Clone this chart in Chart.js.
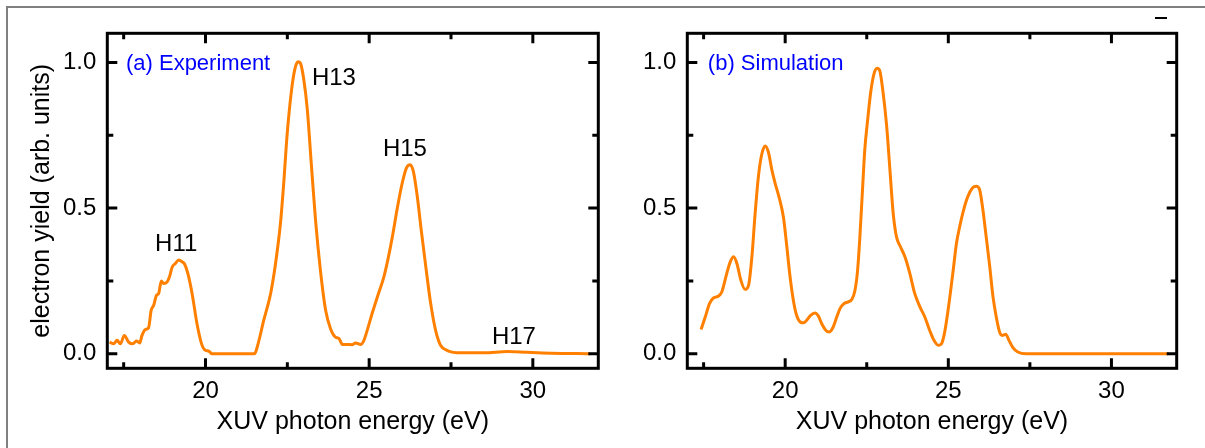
<!DOCTYPE html>
<html><head><meta charset="utf-8">
<script src="https://cdn.jsdelivr.net/npm/chart.js@4.4.1/dist/chart.umd.min.js"></script>
<style>
html,body{margin:0;padding:0;background:#fff;}
body{width:1205px;height:448px;position:relative;overflow:hidden;}
#frame{position:absolute;left:6px;top:6px;width:1400px;height:700px;border-top:2px solid #808080;border-left:2px solid #808080;}
#dash{position:absolute;left:1155px;top:17px;width:12px;height:2px;background:#000;}
#wa{position:absolute;left:0;top:0;width:640px;height:448px;}
#wb{position:absolute;left:600px;top:0;width:605px;height:448px;}
</style></head><body>
<div id="frame"></div><div id="dash"></div>
<div id="wa"><canvas id="ca" width="640" height="448"></canvas></div>
<div id="wb"><canvas id="cb" width="605" height="448"></canvas></div>
<script>
// ---- data ----
const expEnergy = [17.07,17.19,17.30,17.40,17.52,17.65,17.78,17.89,17.99,18.06,18.16,18.26,18.34,18.42,18.50,18.57,18.65,18.72,18.83,18.90,18.98,19.08,19.18,19.28,19.36,19.46,19.59,19.74,19.88,19.97,20.10,20.20,21.50,21.58,21.78,21.99,22.14,22.29,22.39,22.49,22.62,22.73,22.83,22.90,23.00,23.11,23.23,23.36,23.51,23.67,23.82,23.97,24.08,24.18,24.33,24.48,24.58,24.74,24.84,24.94,25.09,25.25,25.45,25.57,25.71,25.86,26.01,26.14,26.25,26.35,26.47,26.59,26.73,26.88,27.03,27.18,27.39,27.80,28.51,29.22,29.83,30.55,31.75];
const expYield = [0.040,0.034,0.046,0.034,0.063,0.040,0.034,0.044,0.037,0.063,0.083,0.089,0.149,0.167,0.200,0.207,0.250,0.241,0.247,0.264,0.297,0.310,0.322,0.316,0.308,0.276,0.207,0.103,0.034,0.014,0.009,0.000,0.000,0.023,0.115,0.207,0.310,0.448,0.586,0.747,0.897,0.977,1.002,0.997,0.943,0.839,0.655,0.460,0.287,0.149,0.086,0.057,0.052,0.032,0.032,0.031,0.037,0.032,0.046,0.080,0.138,0.195,0.264,0.322,0.402,0.500,0.586,0.638,0.649,0.626,0.540,0.425,0.299,0.172,0.080,0.029,0.011,0.003,0.003,0.008,0.005,0.002,0.000];
const simEnergy = [17.42,17.55,17.68,17.81,17.96,18.06,18.21,18.32,18.42,18.52,18.64,18.77,18.88,18.98,19.08,19.18,19.28,19.39,19.49,19.59,19.69,19.82,19.95,20.05,20.15,20.25,20.35,20.46,20.56,20.66,20.78,20.91,21.02,21.12,21.25,21.35,21.46,21.58,21.68,21.80,21.93,22.04,22.14,22.22,22.29,22.37,22.44,22.53,22.62,22.72,22.82,22.90,23.00,23.11,23.21,23.31,23.41,23.53,23.67,23.82,23.97,24.13,24.28,24.43,24.56,24.69,24.79,24.89,25.02,25.15,25.25,25.35,25.47,25.60,25.74,25.86,25.96,26.06,26.16,26.27,26.37,26.47,26.57,26.65,26.76,26.86,26.98,27.13,27.39,31.75];
const simYield = [0.083,0.126,0.172,0.192,0.198,0.213,0.276,0.316,0.333,0.310,0.253,0.221,0.236,0.333,0.483,0.609,0.684,0.713,0.690,0.632,0.586,0.534,0.466,0.368,0.264,0.184,0.132,0.109,0.106,0.115,0.132,0.140,0.129,0.103,0.080,0.075,0.089,0.126,0.155,0.172,0.178,0.186,0.218,0.287,0.402,0.563,0.701,0.805,0.897,0.960,0.980,0.971,0.897,0.782,0.632,0.483,0.402,0.368,0.333,0.276,0.207,0.161,0.126,0.080,0.046,0.029,0.034,0.075,0.172,0.287,0.379,0.437,0.494,0.540,0.569,0.575,0.563,0.494,0.402,0.299,0.195,0.126,0.075,0.063,0.067,0.046,0.021,0.006,0.000,0.000];
const xMajorTicks = [20, 25, 30];
const xMinorTicks = [17.5, 22.5, 27.5];
const xTickLabels = ['20', '25', '30'];
const yMajorTicks = [0, 0.5, 1.0];
const yMinorTicks = [0.25, 0.75];
const yTickLabels = ['0.0', '0.5', '1.0'];
const expLabels = ['(a) Experiment', 'H11', 'H13', 'H15', 'H17'];
const simLabels = ['(b) Simulation'];

// ---- annotation anchors (data coordinates) ----
const expAnchors = [[17.57,0.975],[18.46,0.354],[23.25,0.923],[25.42,0.680],[28.75,0.034]];
const simAnchors = [[17.63,0.975]];

const FONT = "'Liberation Sans', Arial, sans-serif";

const framePlugin = {
  id: 'frame',
  afterDatasetsDraw(chart, args, opts) {
    const {ctx, chartArea: a, scales: {x, y}} = chart;
    ctx.save();
    ctx.strokeStyle = '#000';
    ctx.lineWidth = 3;
    ctx.lineCap = 'butt';
    ctx.strokeRect(a.left, a.top, a.right - a.left, a.bottom - a.top);
    const xt = (vals, len) => vals.forEach(v => {
      const p = x.getPixelForValue(v);
      ctx.beginPath();
      ctx.moveTo(p, a.bottom); ctx.lineTo(p, a.bottom - len);
      ctx.moveTo(p, a.top); ctx.lineTo(p, a.top + len);
      ctx.stroke();
    });
    const yt = (vals, len) => vals.forEach(v => {
      const p = y.getPixelForValue(v);
      ctx.beginPath();
      ctx.moveTo(a.left, p); ctx.lineTo(a.left + len, p);
      ctx.moveTo(a.right, p); ctx.lineTo(a.right - len, p);
      ctx.stroke();
    });
    xt(xMajorTicks, 10); xt(xMinorTicks, 6);
    yt(yMajorTicks, 10); yt(yMinorTicks, 6);
    ctx.textAlign = 'left';
    ctx.textBaseline = 'alphabetic';
    opts.texts.forEach((t, i) => {
      const [e, v] = opts.anchors[i];
      const isPanel = t.startsWith('(');
      ctx.font = (isPanel ? '22px ' : '24px ') + FONT;
      ctx.fillStyle = isPanel ? '#0000ff' : '#000';
      ctx.fillText(t, x.getPixelForValue(e), y.getPixelForValue(v));
    });
    ctx.restore();
  }
};

function makeChart(id, energies, values, yWidth, padRight, yTitle, texts, anchors) {
  return new Chart(document.getElementById(id), {
    type: 'line',
    data: {
      datasets: [{
        data: energies.map((e, i) => ({x: e, y: values[i]})),
        borderColor: '#ff8000',
        borderWidth: 3,
        pointRadius: 0,
        cubicInterpolationMode: 'monotone',
        fill: false
      }]
    },
    options: {
      responsive: false,
      animation: false,
      devicePixelRatio: 1,
      layout: {padding: {top: 33.3, right: padRight, bottom: 0, left: 0}},
      plugins: {
        legend: {display: false},
        tooltip: {enabled: false},
        frame: {texts: texts, anchors: anchors}
      },
      scales: {
        x: {
          type: 'linear', min: 17, max: 32,
          grid: {display: false}, border: {display: false},
          afterBuildTicks: s => { s.ticks = xMajorTicks.map(v => ({value: v})); },
          ticks: {
            callback: (v, i) => xTickLabels[i],
            font: {family: FONT, size: 24}, color: '#000', padding: 1,
            maxRotation: 0, autoSkip: false
          },
          title: {display: true, text: 'XUV photon energy (eV)', color: '#000',
                  font: {family: FONT, size: 25}, padding: {top: 0, bottom: 11}},
          afterFit: s => { s.height = 79.7; }
        },
        y: {
          type: 'linear', min: -0.05, max: 1.10,
          grid: {display: false}, border: {display: false},
          afterBuildTicks: s => { s.ticks = yMajorTicks.map(v => ({value: v})); },
          ticks: {
            callback: (v, i) => yTickLabels[i],
            font: {family: FONT, size: 24}, color: '#000', padding: 3, autoSkip: false
          },
          title: {display: !!yTitle, text: yTitle || '', color: '#000',
                  font: {family: FONT, size: 25}, padding: {top: 27, bottom: 0}},
          afterFit: s => { s.width = yWidth; }
        }
      }
    },
    plugins: [framePlugin]
  });
}

makeChart('ca', expEnergy, expYield, 107.3, 41.7, 'electron yield (arb. units)', expLabels, expAnchors);
makeChart('cb', simEnergy, simYield, 87.3, 28.3, null, simLabels, simAnchors);
</script>
</body></html>
